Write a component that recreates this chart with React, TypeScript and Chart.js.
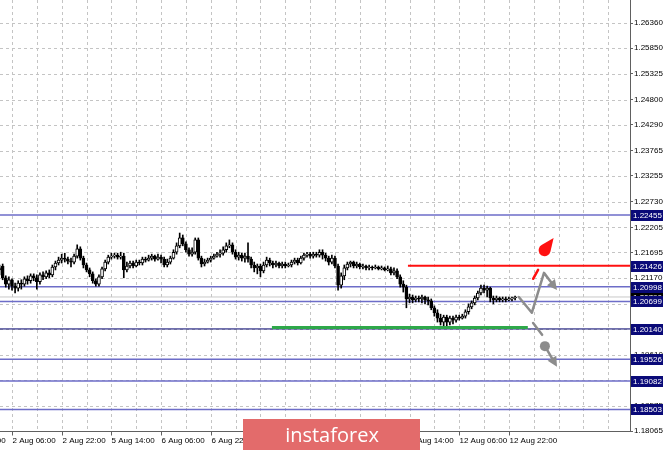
import { useEffect, useRef } from "react";
import { Chart, registerables } from "chart.js";

Chart.register(...registerables);

// Hours are counted in trading time from 2 Aug 06:00 (the weekend gap is removed).
const FIRST_CANDLE_HOUR = -4;

const OPEN = [
  1.2134, 1.2142, 1.2118, 1.2105, 1.2114, 1.2101, 1.2097, 1.2107, 1.2105, 1.2116,
  1.2112, 1.2122, 1.2118, 1.2110, 1.2124, 1.2120, 1.2128, 1.2124, 1.2140, 1.2148,
  1.2154, 1.2158, 1.2156, 1.2152, 1.2150, 1.2162, 1.2177, 1.2158, 1.2144, 1.2134,
  1.2126, 1.2112, 1.2105, 1.2120, 1.2136, 1.2150, 1.2160, 1.2162, 1.2164, 1.2160,
  1.2162, 1.2134, 1.2142, 1.2148, 1.2142, 1.2150, 1.2148, 1.2156, 1.2154, 1.2158,
  1.2162, 1.2156, 1.2160, 1.2156, 1.2144, 1.2150, 1.2158, 1.2170, 1.2183, 1.2199,
  1.2187, 1.2175, 1.2166, 1.2170, 1.2195, 1.2158, 1.2146, 1.2150, 1.2154, 1.2158,
  1.2162, 1.2166, 1.2168, 1.2175, 1.2183, 1.2185, 1.2170, 1.2160, 1.2164, 1.2158,
  1.2162, 1.2156, 1.2144, 1.2138, 1.2142, 1.2132, 1.2144, 1.2154, 1.2148, 1.2144,
  1.2148, 1.2142, 1.2146, 1.2142, 1.2144, 1.2150, 1.2154, 1.2148, 1.2158, 1.2164,
  1.2166, 1.2162, 1.2166, 1.2164, 1.2170, 1.2164, 1.2158, 1.2150, 1.2158, 1.2142,
  1.2103, 1.2122, 1.2138, 1.2146, 1.2150, 1.2142, 1.2146, 1.2140, 1.2142, 1.2138,
  1.2140, 1.2138, 1.2140, 1.2136, 1.2138, 1.2134, 1.2136, 1.2128, 1.2132, 1.2120,
  1.2105, 1.2099, 1.2075, 1.2079, 1.2073, 1.2077, 1.2075, 1.2079, 1.2073, 1.2071,
  1.2057, 1.2047, 1.2036, 1.2028, 1.2038, 1.2028, 1.2036, 1.2032, 1.2038, 1.2036,
  1.2040, 1.2049, 1.2059, 1.2067, 1.2077, 1.2087, 1.2097, 1.2093, 1.2097, 1.2077,
  1.2073, 1.2077, 1.2073, 1.2075, 1.2073, 1.2075, 1.2077,
];

const HIGH = [
  1.2144, 1.2146, 1.2122, 1.2120, 1.2116, 1.2107, 1.2112, 1.2114, 1.2120, 1.2122,
  1.2126, 1.2126, 1.2124, 1.2128, 1.2130, 1.2132, 1.2134, 1.2144, 1.2152, 1.2160,
  1.2166, 1.2168, 1.2160, 1.2158, 1.2166, 1.2185, 1.2181, 1.2162, 1.2148, 1.2138,
  1.2130, 1.2116, 1.2124, 1.2140, 1.2154, 1.2164, 1.2168, 1.2168, 1.2168, 1.2170,
  1.2168, 1.2150, 1.2152, 1.2152, 1.2154, 1.2154, 1.2160, 1.2160, 1.2164, 1.2166,
  1.2164, 1.2166, 1.2164, 1.2160, 1.2156, 1.2162, 1.2175, 1.2189, 1.2209, 1.2205,
  1.2191, 1.2179, 1.2179, 1.2199, 1.2199, 1.2162, 1.2156, 1.2158, 1.2162, 1.2166,
  1.2170, 1.2175, 1.2181, 1.2189, 1.2195, 1.2189, 1.2175, 1.2170, 1.2168, 1.2168,
  1.2189, 1.2160, 1.2150, 1.2146, 1.2146, 1.2150, 1.2160, 1.2158, 1.2152, 1.2152,
  1.2150, 1.2150, 1.2150, 1.2148, 1.2154, 1.2158, 1.2158, 1.2162, 1.2168, 1.2170,
  1.2170, 1.2170, 1.2170, 1.2175, 1.2175, 1.2168, 1.2162, 1.2164, 1.2162, 1.2146,
  1.2128, 1.2144, 1.2150, 1.2152, 1.2152, 1.2150, 1.2148, 1.2146, 1.2144, 1.2144,
  1.2142, 1.2144, 1.2142, 1.2142, 1.2140, 1.2142, 1.2140, 1.2138, 1.2136, 1.2124,
  1.2112, 1.2103, 1.2085, 1.2083, 1.2081, 1.2081, 1.2083, 1.2081, 1.2079, 1.2075,
  1.2061, 1.2053, 1.2044, 1.2042, 1.2042, 1.2040, 1.2040, 1.2042, 1.2042, 1.2044,
  1.2053, 1.2065, 1.2071, 1.2081, 1.2091, 1.2103, 1.2103, 1.2101, 1.2099, 1.2081,
  1.2081, 1.2079, 1.2079, 1.2079, 1.2079, 1.2079, 1.2081,
];

const LOW = [
  1.2124, 1.2114, 1.2099, 1.2095, 1.2093, 1.2087, 1.2091, 1.2095, 1.2101, 1.2105,
  1.2107, 1.2112, 1.2095, 1.2105, 1.2114, 1.2116, 1.2118, 1.2120, 1.2134, 1.2144,
  1.2148, 1.2150, 1.2146, 1.2140, 1.2146, 1.2158, 1.2154, 1.2138, 1.2130, 1.2120,
  1.2107, 1.2101, 1.2101, 1.2116, 1.2132, 1.2146, 1.2156, 1.2158, 1.2156, 1.2156,
  1.2118, 1.2130, 1.2138, 1.2138, 1.2140, 1.2144, 1.2144, 1.2150, 1.2152, 1.2154,
  1.2152, 1.2154, 1.2148, 1.2140, 1.2140, 1.2146, 1.2156, 1.2166, 1.2179, 1.2183,
  1.2170, 1.2162, 1.2162, 1.2166, 1.2154, 1.2140, 1.2142, 1.2148, 1.2150, 1.2156,
  1.2160, 1.2160, 1.2164, 1.2170, 1.2179, 1.2166, 1.2156, 1.2154, 1.2152, 1.2150,
  1.2150, 1.2138, 1.2130, 1.2126, 1.2120, 1.2128, 1.2140, 1.2142, 1.2138, 1.2140,
  1.2138, 1.2138, 1.2138, 1.2140, 1.2140, 1.2146, 1.2144, 1.2146, 1.2154, 1.2160,
  1.2158, 1.2158, 1.2160, 1.2160, 1.2156, 1.2152, 1.2144, 1.2146, 1.2138, 1.2093,
  1.2097, 1.2114, 1.2134, 1.2140, 1.2138, 1.2138, 1.2136, 1.2136, 1.2134, 1.2134,
  1.2134, 1.2136, 1.2134, 1.2134, 1.2132, 1.2132, 1.2124, 1.2124, 1.2116, 1.2099,
  1.2089, 1.2057, 1.2067, 1.2067, 1.2069, 1.2069, 1.2067, 1.2065, 1.2063, 1.2053,
  1.2040, 1.2028, 1.2022, 1.2020, 1.2018, 1.2022, 1.2024, 1.2028, 1.2032, 1.2034,
  1.2036, 1.2044, 1.2055, 1.2063, 1.2073, 1.2083, 1.2087, 1.2079, 1.2069, 1.2065,
  1.2069, 1.2069, 1.2069, 1.2069, 1.2071, 1.2071, 1.2073,
];

const CLOSE = [
  1.2138, 1.2118, 1.2105, 1.2114, 1.2101, 1.2097, 1.2107, 1.2105, 1.2116, 1.2112,
  1.2122, 1.2118, 1.2110, 1.2124, 1.2120, 1.2128, 1.2124, 1.2140, 1.2148, 1.2154,
  1.2158, 1.2156, 1.2152, 1.2150, 1.2162, 1.2177, 1.2158, 1.2144, 1.2134, 1.2126,
  1.2112, 1.2105, 1.2120, 1.2136, 1.2150, 1.2160, 1.2162, 1.2164, 1.2160, 1.2162,
  1.2134, 1.2142, 1.2148, 1.2142, 1.2150, 1.2148, 1.2156, 1.2154, 1.2158, 1.2162,
  1.2156, 1.2160, 1.2156, 1.2144, 1.2150, 1.2158, 1.2170, 1.2183, 1.2199, 1.2187,
  1.2175, 1.2166, 1.2170, 1.2195, 1.2158, 1.2146, 1.2150, 1.2154, 1.2158, 1.2162,
  1.2166, 1.2168, 1.2175, 1.2183, 1.2185, 1.2170, 1.2160, 1.2164, 1.2158, 1.2162,
  1.2156, 1.2144, 1.2138, 1.2142, 1.2132, 1.2144, 1.2154, 1.2148, 1.2144, 1.2148,
  1.2142, 1.2146, 1.2142, 1.2144, 1.2150, 1.2154, 1.2148, 1.2158, 1.2164, 1.2166,
  1.2162, 1.2166, 1.2164, 1.2170, 1.2164, 1.2158, 1.2150, 1.2158, 1.2142, 1.2103,
  1.2122, 1.2138, 1.2146, 1.2150, 1.2142, 1.2146, 1.2140, 1.2142, 1.2138, 1.2140,
  1.2138, 1.2140, 1.2136, 1.2138, 1.2134, 1.2136, 1.2128, 1.2132, 1.2120, 1.2105,
  1.2099, 1.2075, 1.2079, 1.2073, 1.2077, 1.2075, 1.2079, 1.2073, 1.2071, 1.2057,
  1.2047, 1.2036, 1.2028, 1.2038, 1.2028, 1.2036, 1.2032, 1.2038, 1.2036, 1.2040,
  1.2049, 1.2059, 1.2067, 1.2077, 1.2087, 1.2097, 1.2093, 1.2097, 1.2077, 1.2073,
  1.2077, 1.2073, 1.2075, 1.2073, 1.2075, 1.2077, 1.2079,
];

// Price axis
const PRICE_MIN = 1.18065;
const PRICE_MAX = 1.26828;
const PRICE_TICKS = [
  1.2636, 1.2585, 1.25325, 1.248, 1.2429, 1.23765, 1.23255, 1.2273, 1.22205,
  1.21695, 1.2117, 1.2065, 1.2014, 1.1961, 1.191, 1.18575, 1.18065,
];

// Time axis
const HOUR_MIN = -3.86;
const HOUR_MAX = 199;
const TIME_TICK_HOURS = [-16, 0, 16, 32, 48, 64, 80, 96, 112, 128, 144, 160];
const TIME_TICK_LABELS = [
  "1 Aug 14:00", "2 Aug 06:00", "2 Aug 22:00", "5 Aug 14:00", "6 Aug 06:00",
  "6 Aug 22:00", "7 Aug 14:00", "8 Aug 06:00", "8 Aug 22:00", "9 Aug 14:00",
  "12 Aug 06:00", "12 Aug 22:00",
];
const GRID_HOURS = [
  0, 8, 16, 24, 32, 40, 48, 56, 64, 72, 80, 88, 96, 104, 112, 120, 128, 136,
  144, 152, 160, 168, 176, 184, 192,
];

// Horizontal levels
const BLUE_LEVELS = [1.22455, 1.20998, 1.20699, 1.19526, 1.19082, 1.18503];
const NAVY_LEVEL = 1.2014;
const RED_LEVEL = 1.21426;
const RED_FROM_HOUR = 127.5;
const GREEN_LEVEL = 1.2017;
const GREEN_HOURS = [83.7, 166.1];
const LABELLED_LEVELS = [1.22455, 1.21426, 1.20998, 1.20699, 1.2014, 1.19526, 1.19082, 1.18503];
const BID = CLOSE[CLOSE.length - 1];

// Scenario sketch
const UP_PATH_HOURS = [163.2, 167.4, 171.3, 175.5];
const UP_PATH_PRICES = [1.2079, 1.2047, 1.2128, 1.2093];
const RED_DASH_HOURS = [167.8, 169.4];
const RED_DASH_PRICES = [1.2116, 1.2134];
const RED_DROP_HOURS = [171.5, 174.4];
const RED_DROP_PRICES = [1.2174, 1.2199];
const GRAY_DASH_HOURS = [167.8, 170.7];
const GRAY_DASH_PRICES = [1.2026, 1.2002];
const DOWN_PATH_HOURS = [171.6, 175.5];
const DOWN_PATH_PRICES = [1.1979, 1.1937];

const FONT = "'Liberation Sans', Arial, sans-serif";
const GRAY = "#8c8c8c";

type Pt = { x: number; y: number };

function arrowHead(ctx: CanvasRenderingContext2D, from: Pt, to: Pt, len: number, half: number) {
  const a = Math.atan2(to.y - from.y, to.x - from.x);
  ctx.beginPath();
  ctx.moveTo(to.x, to.y);
  ctx.lineTo(to.x - len * Math.cos(a) + half * Math.sin(a), to.y - len * Math.sin(a) - half * Math.cos(a));
  ctx.lineTo(to.x - len * Math.cos(a) - half * Math.sin(a), to.y - len * Math.sin(a) + half * Math.cos(a));
  ctx.closePath();
  ctx.fill();
}

export default function App() {
  const ref = useRef<HTMLCanvasElement>(null);

  useEffect(() => {
    document.body.style.margin = "0";
    const canvas = ref.current;
    if (!canvas) return;

    const hours = OPEN.map((_, i) => FIRST_CANDLE_HOUR + i);
    const wicks = hours.map((h, i) => ({ x: h, y: [LOW[i], HIGH[i]] }));
    const bodies = hours.map((h, i) => ({ x: h, y: [OPEN[i], CLOSE[i]] }));
    const bodyFill = hours.map((_, i) => (CLOSE[i] >= OPEN[i] ? "#ffffff" : "#000000"));

    const span = (level: number, from = HOUR_MIN, to = HOUR_MAX) => [
      { x: from, y: level },
      { x: to, y: level },
    ];
    const lineDs = (data: any[], color: string, width: number, order: number) => ({
      type: "line" as const,
      data,
      borderColor: color,
      borderWidth: width,
      pointRadius: 0,
      order,
    });

    const gridPlugin = {
      id: "mtGrid",
      beforeDatasetsDraw(chart: any) {
        const { ctx, chartArea } = chart;
        const xs = chart.scales.x;
        const ys = chart.scales.y;
        ctx.save();
        ctx.strokeStyle = "#c4c4c4";
        ctx.lineWidth = 1;
        ctx.setLineDash([3, 3]);
        PRICE_TICKS.forEach((v) => {
          const y = Math.round(ys.getPixelForValue(v)) + 0.5;
          ctx.beginPath();
          ctx.moveTo(chartArea.left, y);
          ctx.lineTo(chartArea.right, y);
          ctx.stroke();
        });
        GRID_HOURS.forEach((h) => {
          const x = Math.round(xs.getPixelForValue(h)) + 0.5;
          ctx.beginPath();
          ctx.moveTo(x, chartArea.top);
          ctx.lineTo(x, chartArea.bottom);
          ctx.stroke();
        });
        ctx.restore();
      },
    };

    const sketchPlugin = {
      id: "scenario",
      afterDatasetsDraw(chart: any) {
        const { ctx } = chart;
        const xs = chart.scales.x;
        const ys = chart.scales.y;
        const pt = (h: number, p: number): Pt => ({ x: xs.getPixelForValue(h), y: ys.getPixelForValue(p) });
        ctx.save();
        ctx.lineCap = "round";
        ctx.lineJoin = "round";

        // upward scenario path
        const up = UP_PATH_HOURS.map((h, i) => pt(h, UP_PATH_PRICES[i]));
        ctx.strokeStyle = GRAY;
        ctx.fillStyle = GRAY;
        ctx.lineWidth = 2.5;
        ctx.beginPath();
        up.forEach((p, i) => {
          const last = i === up.length - 1;
          if (last) {
            const prev = up[i - 1];
            const k = 1 - 6 / Math.hypot(p.x - prev.x, p.y - prev.y);
            ctx.lineTo(prev.x + (p.x - prev.x) * k, prev.y + (p.y - prev.y) * k);
          } else if (i === 0) ctx.moveTo(p.x, p.y);
          else ctx.lineTo(p.x, p.y);
        });
        ctx.stroke();
        arrowHead(ctx, up[up.length - 2], up[up.length - 1], 10, 5);

        // red dash towards the breakout mark
        const r0 = pt(RED_DASH_HOURS[0], RED_DASH_PRICES[0]);
        const r1 = pt(RED_DASH_HOURS[1], RED_DASH_PRICES[1]);
        ctx.strokeStyle = "#ff1010";
        ctx.beginPath();
        ctx.moveTo(r0.x, r0.y);
        ctx.lineTo(r1.x, r1.y);
        ctx.stroke();

        // red drop
        const c = pt(RED_DROP_HOURS[0], RED_DROP_PRICES[0]);
        const t = pt(RED_DROP_HOURS[1], RED_DROP_PRICES[1]);
        const r = 6;
        const a = Math.atan2(t.y - c.y, t.x - c.x);
        const d = Math.hypot(t.x - c.x, t.y - c.y);
        const al = Math.acos(Math.min(1, r / d));
        ctx.fillStyle = "#ff1010";
        ctx.beginPath();
        ctx.moveTo(t.x, t.y);
        ctx.arc(c.x, c.y, r, a + al, a - al + Math.PI * 2);
        ctx.closePath();
        ctx.fill();

        // downward scenario
        const g0 = pt(GRAY_DASH_HOURS[0], GRAY_DASH_PRICES[0]);
        const g1 = pt(GRAY_DASH_HOURS[1], GRAY_DASH_PRICES[1]);
        ctx.strokeStyle = GRAY;
        ctx.fillStyle = GRAY;
        ctx.beginPath();
        ctx.moveTo(g0.x, g0.y);
        ctx.lineTo(g1.x, g1.y);
        ctx.stroke();
        const d0 = pt(DOWN_PATH_HOURS[0], DOWN_PATH_PRICES[0]);
        const d1 = pt(DOWN_PATH_HOURS[1], DOWN_PATH_PRICES[1]);
        ctx.beginPath();
        ctx.arc(d0.x, d0.y, 5, 0, Math.PI * 2);
        ctx.fill();
        const k = 1 - 6 / Math.hypot(d1.x - d0.x, d1.y - d0.y);
        ctx.beginPath();
        ctx.moveTo(d0.x, d0.y);
        ctx.lineTo(d0.x + (d1.x - d0.x) * k, d0.y + (d1.y - d0.y) * k);
        ctx.stroke();
        arrowHead(ctx, d0, d1, 10, 5);
        ctx.restore();
      },
    };

    const framePlugin = {
      id: "frame",
      afterDraw(chart: any) {
        const { ctx, chartArea } = chart;
        const xs = chart.scales.x;
        const ys = chart.scales.y;
        ctx.save();

        // time axis
        const by = Math.round(chartArea.bottom) + 0.5;
        ctx.strokeStyle = "#606060";
        ctx.lineWidth = 1;
        ctx.beginPath();
        ctx.moveTo(0, by);
        ctx.lineTo(chartArea.right, by);
        ctx.stroke();
        ctx.font = `8px ${FONT}`;
        ctx.fillStyle = "#000";
        ctx.textAlign = "left";
        ctx.textBaseline = "middle";
        TIME_TICK_HOURS.forEach((h, i) => {
          const x = Math.round(xs.getPixelForValue(h)) + 0.5;
          ctx.beginPath();
          ctx.moveTo(x, by);
          ctx.lineTo(x, by + 4);
          ctx.stroke();
          ctx.fillText(TIME_TICK_LABELS[i], x, by + 9);
        });

        // bid price box, then the level boxes
        const box = (v: number, bg: string) => {
          const y = Math.round(ys.getPixelForValue(v));
          ctx.fillStyle = bg;
          ctx.fillRect(chartArea.right + 1, y - 5, 32, 11);
          ctx.fillStyle = "#ffffff";
          ctx.fillText(v.toFixed(5), chartArea.right + 3, y + 0.5);
        };
        box(BID, "#000000");
        LABELLED_LEVELS.forEach((v) => box(v, "#0a0a78"));

        // brand plate
        ctx.fillStyle = "#e36b6b";
        ctx.fillRect(243, 419, 177, 31);
        ctx.fillStyle = "#ffffff";
        ctx.font = `20px 'Open Sans', ${FONT}`;
        ctx.textAlign = "center";
        ctx.fillText("instaforex", 332, 436);
        ctx.restore();
      },
    };

    const chart = new Chart(canvas, {
      type: "bar",
      data: {
        datasets: [
          lineDs(span(BID), "#c8c8c8", 1, 9),
          ...BLUE_LEVELS.map((v) => lineDs(span(v), "#6d6dc8", 1.5, 8)),
          lineDs(span(NAVY_LEVEL), "#00006e", 1, 8),
          lineDs(span(RED_LEVEL, RED_FROM_HOUR), "#ff1010", 2, 8),
          {
            type: "bar" as const,
            data: wicks as any,
            backgroundColor: "#000000",
            barThickness: 1,
            grouped: false,
            order: 4,
          },
          {
            type: "bar" as const,
            data: bodies as any,
            backgroundColor: bodyFill,
            borderColor: "#000000",
            borderWidth: 1,
            borderSkipped: false,
            barThickness: 3,
            grouped: false,
            order: 3,
          },
          lineDs(span(GREEN_LEVEL, GREEN_HOURS[0], GREEN_HOURS[1]), "#2ea84a", 3, 1),
        ] as any,
      },
      options: {
        animation: false,
        responsive: false,
        events: [],
        layout: { padding: { left: 0, right: 0, top: 0, bottom: 19 } },
        plugins: { legend: { display: false }, tooltip: { enabled: false } },
        scales: {
          x: {
            type: "linear",
            display: false,
            min: HOUR_MIN,
            max: HOUR_MAX,
            offset: false,
          },
          y: {
            type: "linear",
            position: "right",
            min: PRICE_MIN,
            max: PRICE_MAX,
            afterBuildTicks: (s: any) => {
              s.ticks = PRICE_TICKS.map((v) => ({ value: v }));
            },
            afterFit: (s: any) => {
              s.width = 35;
              s.paddingTop = 0;
              s.paddingBottom = 0;
            },
            ticks: {
              autoSkip: false,
              padding: 1,
              color: "#000",
              font: { family: FONT, size: 8 },
              callback: (v: any) => Number(v).toFixed(5),
            },
            grid: { drawOnChartArea: false, tickLength: 3, tickColor: "#606060" },
            border: { color: "#606060" },
          },
        },
      },
      plugins: [gridPlugin, sketchPlugin, framePlugin],
    });

    return () => chart.destroy();
  }, []);

  return (
    <div style={{ position: "fixed", left: 0, top: 0, width: 665, height: 450, background: "#fff" }}>
      <canvas ref={ref} width={665} height={450} style={{ display: "block" }} />
    </div>
  );
}
